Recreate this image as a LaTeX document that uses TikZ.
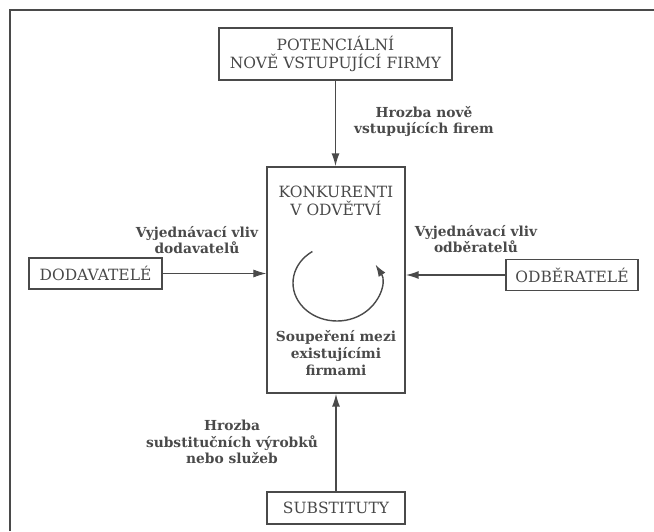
\documentclass[tikz,border=0pt]{standalone}
\usepackage{fontspec}
\setmainfont{DejaVu Serif}
\usetikzlibrary{arrows.meta}
\definecolor{ink}{HTML}{4A4A4A}
\definecolor{boxtext}{HTML}{484848}
\tikzset{
  frameline/.style={draw=ink, line width=1.2pt},
  boxnode/.style={draw=ink, line width=1.3pt, text=boxtext, inner sep=0pt, align=center,
    font=\fontsize{15.5}{18.5}\selectfont},
  lbl/.style={text=ink, align=center, inner sep=0pt, font=\fontsize{13.8}{16.8}\selectfont\bfseries},
  intext/.style={text=boxtext, align=center, inner sep=0pt, font=\fontsize{15.5}{18.5}\selectfont},
  thickarrow/.style={draw=ink, line width=1.5pt, -{Latex[length=13pt,width=8pt]}},
  thinarrow/.style={draw=ink, line width=0.9pt, -{Latex[length=13pt,width=8pt]}}
}
\begin{document}
\begin{tikzpicture}[x=1pt,y=1pt]
\useasboundingbox (0,0) rectangle (654,531);
% outer frame (partial)
\draw[frameline] (10,0) -- (10,521) -- (654,521);

% boxes
\node[boxnode, minimum width=233pt, minimum height=52pt] (top) at (335.5,477) {POTENCIÁLNÍ\\NOVĚ VSTUPUJÍCÍ FIRMY};
\node[boxnode, minimum width=138pt, minimum height=226pt] (cen) at (336,251) {};
\node[boxnode, minimum width=133pt, minimum height=31pt] (dod) at (95.5,257.5) {DODAVATELÉ};
\node[boxnode, minimum width=132pt, minimum height=31pt] (odb) at (572,256) {ODBĚRATELÉ};
\node[boxnode, minimum width=138pt, minimum height=32pt] (sub) at (336,23) {SUBSTITUTY};

% text inside center box
\node[intext] (kon) at (336,330) {KONKURENTI\\V ODVĚTVÍ};
\node[lbl] (soup) at (336,178) {Soupeření mezi\\existujícími\\firmami};

% circular arrow
\draw[draw=ink, line width=1.4pt, -{Latex[length=12pt,width=8pt]}]
  (337,248) ++(124:44 and 38) arc[start angle=124, end angle=389, x radius=44, y radius=38];

% labels
\node[lbl] (lnew) at (424,409.5) {Hrozba nově\\vstupujících firem};
\node[lbl] (ldod) at (197,291) {Vyjednávací vliv\\dodavatelů};
\node[lbl] (lodb) at (476,292) {Vyjednávací vliv\\odběratelů};
\node[lbl] (lsub) at (232,89) {Hrozba\\substitučních výrobků\\nebo služeb};

% connectors
\draw[thickarrow] (top.south) -- (top.south |- cen.north);
\draw[thinarrow] (dod.east) -- (dod.east -| cen.west);
\draw[thickarrow] (odb.west) -- (odb.west -| cen.east);
\draw[thickarrow] (sub.north) -- (sub.north |- cen.south);
\end{tikzpicture}
\end{document}
